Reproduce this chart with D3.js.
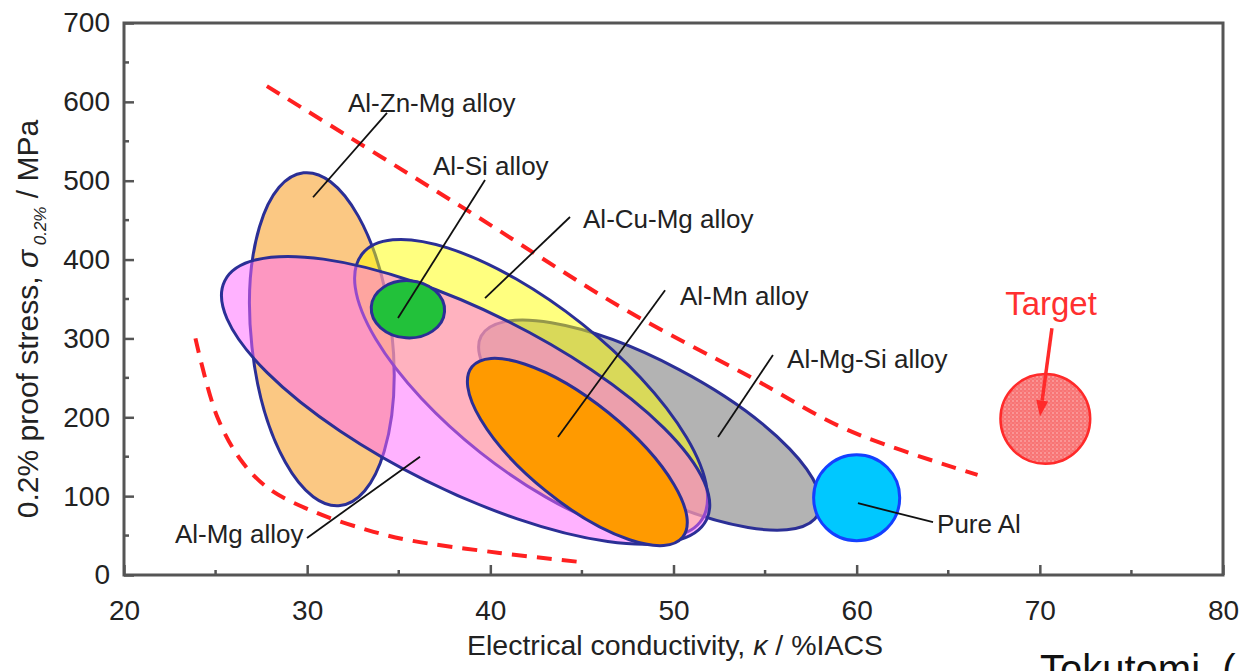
<!DOCTYPE html>
<html>
<head>
<meta charset="utf-8">
<script src="https://cdn.jsdelivr.net/npm/d3@7"></script>
<style>
  body { margin: 0; background: #fff; }
  svg { display: block; font-family: "Liberation Sans", Arial, sans-serif; }
</style>
</head>
<body>
<svg id="chart" width="1243" height="671"></svg>
<script>
// ---- axes ----
const xDomain = [20, 80];
const yDomain = [0, 700];
const xTicks = [20, 30, 40, 50, 60, 70, 80];
const yTicks = [0, 100, 200, 300, 400, 500, 600, 700];
const xMinorTicks = [25, 35, 45, 55, 65, 75];
const yMinorTicks = [50, 150, 250, 350, 450, 550, 650];

// ---- alloy regions (κ in %IACS, σ in MPa) ----
// each region is an ellipse: both ends of its long axis, plus width / length ratio
const regionNames = ["Al-Zn-Mg", "Al-Mg-Si", "Al-Cu-Mg", "Al-Mg", "Al-Mn", "Al-Si", "Pure Al", "Target"];
const regionStart = [[29.8, 510], [39.5, 303], [33.0, 407], [25.5, 373], [39.0, 264], [33.5, 340], [57.65, 98], [67.85, 198]];
const regionEnd   = [[31.8, 88],  [57.9, 77],  [51.45, 67], [51.8, 70],  [50.5, 48],  [37.5, 334], [62.35, 98], [72.75, 198]];
const regionRatio = [0.42, 0.33, 0.38, 0.333, 0.37, 0.78, 1, 1];

// ---- trend bounds (dashed) ----
const upperBound = [[27.8, 620], [38.7, 463], [47.1, 340], [54.2, 251], [59.5, 184], [66.6, 127]];
const lowerBound = [[23.9, 300], [25.1, 200], [26.5, 142], [28.0, 108], [30.5, 79], [33.3, 57], [35.6, 44], [40.5, 28], [45.1, 16]];

// ---- annotations ----
const labelTexts = ["Al-Zn-Mg alloy", "Al-Si alloy", "Al-Cu-Mg alloy", "Al-Mn alloy", "Al-Mg-Si alloy", "Pure Al", "Al-Mg alloy"];
const labelAt    = [[32.23, 587], [36.87, 507], [45.06, 440], [50.35, 342], [56.2, 262], [64.39, 53], [22.78, 41]];
const leaderFrom = [[34.36, 586], [39.71, 501], [44.35, 454], [49.54, 361], [55.43, 279], [60.07, 91], [29.99, 47]];
const leaderTo   = [[30.32, 479], [34.96, 326], [39.71, 351], [43.69, 175], [52.43, 175], [64.17, 67], [36.16, 150]];
const targetLabel = "Target";
const targetLabelAt = [70.61, 330];
const targetArrow = [[70.66, 313], [70.01, 201]];

// ---- styles ----
const regionStyle = {
  "Al-Zn-Mg": { fill: "#fbc883", op: 1,   stroke: "#2b2f96" },
  "Al-Mg-Si": { fill: "#b3b3b3", op: 1,   stroke: "#2b2f96" },
  "Al-Cu-Mg": { fill: "#ffff00", op: 0.5, stroke: "#2b2f96" },
  "Al-Mg":    { fill: "#ff66ff", op: 0.5, stroke: "#2b2f96" },
  "Al-Mn":    { fill: "#ff9a00", op: 1,   stroke: "#2b2f96" },
  "Al-Si":    { fill: "#22c13a", op: 1,   stroke: "#2b2f96" },
  "Pure Al":  { fill: "#00c8ff", op: 1,   stroke: "#1440ff" },
  "Target":   { fill: "url(#stipple)", op: 1, stroke: "#ff2a2a" }
};

const svg = d3.select("#chart");
const margin = { left: 124, top: 23, right: 20, bottom: 96 };
const W = 1243, H = 671;

const x = d3.scaleLinear().domain(xDomain).range([margin.left, W - margin.right]);
const y = d3.scaleLinear().domain(yDomain).range([H - margin.bottom, margin.top]);

// stippled fill for the target zone
const defs = svg.append("defs");
const pat = defs.append("pattern").attr("id", "stipple")
  .attr("patternUnits", "userSpaceOnUse").attr("width", 4).attr("height", 4);
pat.append("rect").attr("width", 4).attr("height", 4).attr("fill", "#f87474");
pat.append("circle").attr("cx", 1).attr("cy", 1).attr("r", 0.8).attr("fill", "#fff").attr("opacity", 0.55);
pat.append("circle").attr("cx", 3).attr("cy", 3).attr("r", 0.6).attr("fill", "#fff").attr("opacity", 0.35);

const clipId = "plotclip";
defs.append("clipPath").attr("id", clipId).append("rect")
  .attr("x", x(xDomain[0])).attr("y", y(yDomain[1]))
  .attr("width", x(xDomain[1]) - x(xDomain[0])).attr("height", y(yDomain[0]) - y(yDomain[1]));

// ---- regions ----
const gRegions = svg.append("g").attr("clip-path", `url(#${clipId})`);
regionNames.forEach((name, i) => {
  const x1 = x(regionStart[i][0]), y1 = y(regionStart[i][1]);
  const x2 = x(regionEnd[i][0]),   y2 = y(regionEnd[i][1]);
  const cx = (x1 + x2) / 2, cy = (y1 + y2) / 2;
  const a = Math.hypot(x2 - x1, y2 - y1) / 2;
  const b = a * regionRatio[i];
  const ang = Math.atan2(y2 - y1, x2 - x1) * 180 / Math.PI;
  const st = regionStyle[name];
  gRegions.append("ellipse")
    .attr("cx", cx).attr("cy", cy).attr("rx", a).attr("ry", b)
    .attr("transform", `rotate(${ang},${cx},${cy})`)
    .attr("fill", st.fill).attr("fill-opacity", st.op)
    .attr("stroke", st.stroke).attr("stroke-width", name === "Target" ? 2.5 : 3);
});

// ---- dashed bounds ----
const line = d3.line().x(d => x(d[0])).y(d => y(d[1])).curve(d3.curveCatmullRom.alpha(0.5));
[upperBound, lowerBound].forEach(pts => {
  svg.append("path").attr("d", line(pts))
    .attr("fill", "none").attr("stroke", "#ff2020").attr("stroke-width", 4)
    .attr("stroke-dasharray", "15 10");
});

// ---- leaders and labels ----
labelTexts.forEach((t, i) => {
  svg.append("line")
    .attr("x1", x(leaderFrom[i][0])).attr("y1", y(leaderFrom[i][1]))
    .attr("x2", x(leaderTo[i][0])).attr("y2", y(leaderTo[i][1]))
    .attr("stroke", "#111").attr("stroke-width", 1.8);
  svg.append("text")
    .attr("x", x(labelAt[i][0])).attr("y", y(labelAt[i][1]))
    .attr("font-size", 26).attr("fill", "#222").text(t);
});

// target label and arrow
svg.append("text")
  .attr("x", x(targetLabelAt[0])).attr("y", y(targetLabelAt[1]))
  .attr("text-anchor", "middle").attr("font-size", 33).attr("fill", "#ff3030")
  .text(targetLabel);
{
  const ax1 = x(targetArrow[0][0]), ay1 = y(targetArrow[0][1]);
  const ax2 = x(targetArrow[1][0]), ay2 = y(targetArrow[1][1]);
  const ang = Math.atan2(ay2 - ay1, ax2 - ax1);
  const headLen = 16, headW = 6;
  const bx = ax2 - headLen * Math.cos(ang), by = ay2 - headLen * Math.sin(ang);
  svg.append("line").attr("x1", ax1).attr("y1", ay1).attr("x2", bx).attr("y2", by)
    .attr("stroke", "#ff2a2a").attr("stroke-width", 3.5);
  const px = -Math.sin(ang), py = Math.cos(ang);
  svg.append("path")
    .attr("d", `M${ax2},${ay2}L${bx + px * headW},${by + py * headW}L${bx - px * headW},${by - py * headW}Z`)
    .attr("fill", "#ff2a2a");
}

// ---- frame and axes ----
const axisColor = "#555";
svg.append("rect")
  .attr("x", x(xDomain[0])).attr("y", y(yDomain[1]))
  .attr("width", x(xDomain[1]) - x(xDomain[0])).attr("height", y(yDomain[0]) - y(yDomain[1]))
  .attr("fill", "none").attr("stroke", axisColor).attr("stroke-width", 3);

const xAxis = svg.append("g").attr("transform", `translate(0,${y(0)})`)
  .call(d3.axisBottom(x).tickValues(xTicks).tickSize(-10).tickPadding(25).tickFormat(d3.format("d")));
const yAxis = svg.append("g").attr("transform", `translate(${x(20)},0)`)
  .call(d3.axisLeft(y).tickValues(yTicks).tickSize(-10).tickPadding(24).tickFormat(d3.format("d")));
[xAxis, yAxis].forEach(g => {
  g.select(".domain").remove();
  g.selectAll(".tick line").attr("stroke", axisColor).attr("stroke-width", 2.5);
  g.selectAll(".tick text").attr("font-size", 28).attr("fill", "#222")
    .attr("font-family", "Liberation Sans, Arial, sans-serif");
});
yAxis.selectAll(".tick text").attr("dx", 10);

// minor ticks
svg.append("g").selectAll("line").data(xMinorTicks).join("line")
  .attr("x1", d => x(d)).attr("x2", d => x(d))
  .attr("y1", y(0)).attr("y2", y(0) - 5)
  .attr("stroke", axisColor).attr("stroke-width", 2.5);
svg.append("g").selectAll("line").data(yMinorTicks).join("line")
  .attr("y1", d => y(d)).attr("y2", d => y(d))
  .attr("x1", x(20)).attr("x2", x(20) + 5)
  .attr("stroke", axisColor).attr("stroke-width", 2.5);

// axis titles
const xt = svg.append("text").attr("x", 675).attr("y", 655)
  .attr("text-anchor", "middle").attr("font-size", 28.5).attr("fill", "#222");
xt.append("tspan").text("Electrical conductivity, ");
xt.append("tspan").attr("font-style", "italic").text("κ");
xt.append("tspan").text(" / %IACS");

const yt = svg.append("text")
  .attr("transform", `translate(38,${y(0) - 256}) rotate(-90)`)
  .attr("text-anchor", "middle").attr("font-size", 30).attr("fill", "#222");
yt.append("tspan").text("0.2% proof stress, ");
yt.append("tspan").attr("font-style", "italic").text("σ");
yt.append("tspan").attr("font-style", "italic").attr("font-size", 17).attr("dy", 8).text(" 0.2%");
yt.append("tspan").attr("dy", -8).text(" / MPa");

// source note
svg.append("text").attr("x", 1040).attr("y", 683)
  .attr("font-size", 40).attr("fill", "#111")
  .attr("font-family", "Liberation Sans, Arial, sans-serif")
  .text("Tokutomi, (");
</script>
</body>
</html>
